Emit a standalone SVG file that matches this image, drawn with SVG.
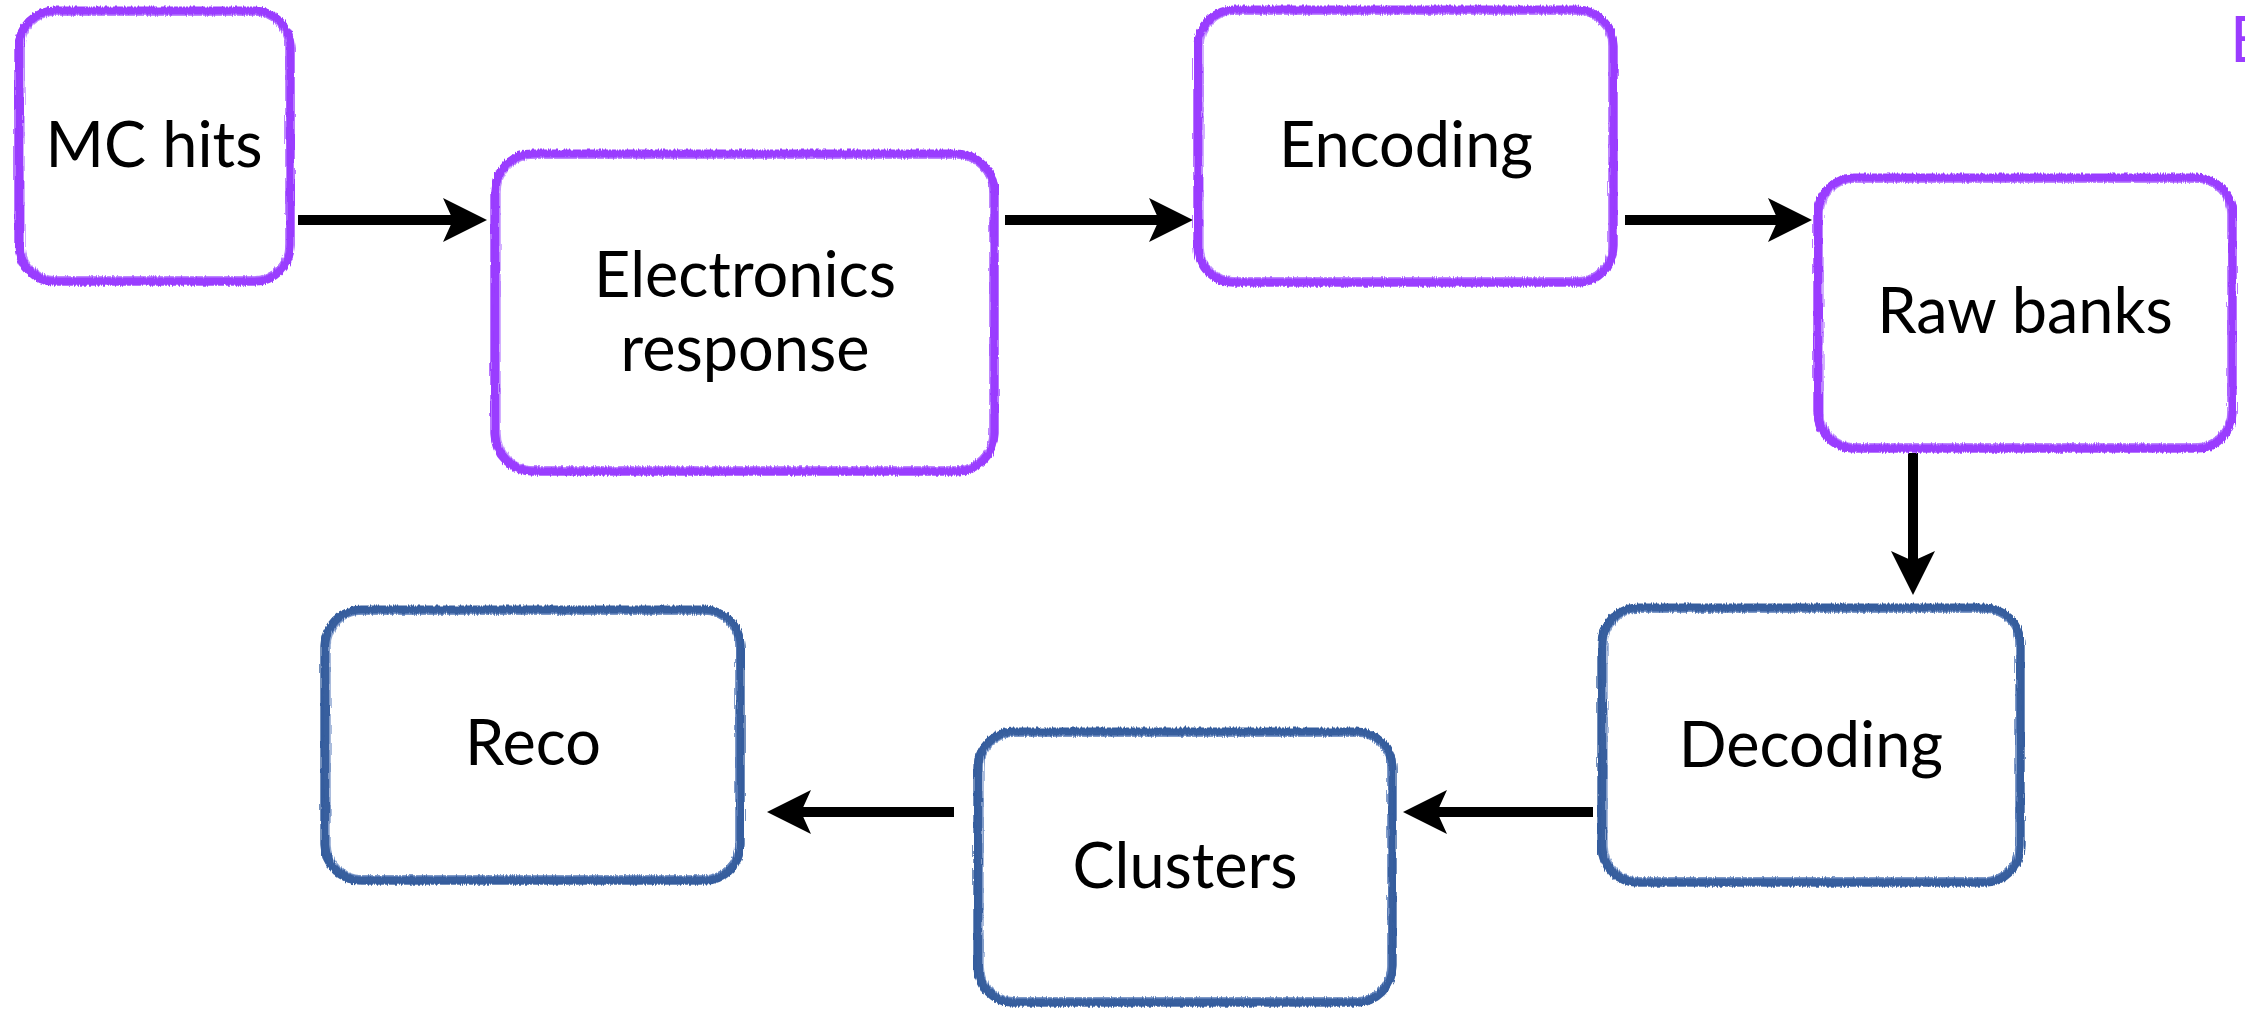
<svg xmlns="http://www.w3.org/2000/svg" width="2245" height="1009" viewBox="0 0 2245 1009">
<style>
.lbl{font-family:Lato,"Open Sans","Liberation Sans",sans-serif;font-size:63px;fill:#000;text-anchor:middle}
.p .main{fill:#fff;stroke:#9a3cff;stroke-width:9}
.p .sub{fill:none;stroke:#9a3cff;stroke-width:3;opacity:.75}
.p .thin{fill:none;stroke:#b57aff;stroke-width:1.5;opacity:.8}
.b .main{fill:#fff;stroke:#375e9e;stroke-width:9}
.b .sub{fill:none;stroke:#375e9e;stroke-width:3;opacity:.75}
.b .thin{fill:none;stroke:#6f8fc4;stroke-width:1.5;opacity:.8}
.rough{filter:url(#rough)}
.edge{fill:none;stroke:#000;stroke-width:10}
</style>
<defs>
<filter id="rough" x="-5%" y="-5%" width="110%" height="110%">
<feTurbulence type="fractalNoise" baseFrequency="0.9 0.05" numOctaves="2" seed="3" result="n"/>
<feDisplacementMap in="SourceGraphic" in2="n" scale="4" xChannelSelector="R" yChannelSelector="G"/>
</filter>
<marker id="ah" viewBox="0 0 44 44" refX="10" refY="22" markerWidth="44" markerHeight="44" markerUnits="userSpaceOnUse" orient="auto">
<path d="M0,0 L44,22 L0,44 L10,22 z" fill="#000"/>
</marker>
</defs>
<rect width="2245" height="1009" fill="#fff"/>

<g id="connectors">
<path class="edge" d="M298,220 H453" marker-end="url(#ah)"/>
<path class="edge" d="M1005,220 H1159" marker-end="url(#ah)"/>
<path class="edge" d="M1625,220 H1778" marker-end="url(#ah)"/>
<path class="edge" d="M1913,453 V561" marker-end="url(#ah)"/>
<path class="edge" d="M1593,812 H1437" marker-end="url(#ah)"/>
<path class="edge" d="M954,812 H801" marker-end="url(#ah)"/>
</g>

<g id="n-mchits" class="p">
<g class="rough">
<rect class="main" x="19" y="11" width="271" height="270" rx="36"/>
<rect class="sub" x="16" y="9" width="277" height="275" rx="38"/>
<rect class="thin" x="24" y="15" width="262" height="262" rx="32"/>
</g>
<text class="lbl" x="154" y="167">MC hits</text>
</g>

<g id="n-electronics" class="p">
<g class="rough">
<rect class="main" x="495" y="154" width="499" height="317" rx="38"/>
<rect class="sub" x="492" y="152" width="505" height="322" rx="40"/>
<rect class="thin" x="500" y="158" width="490" height="309" rx="34"/>
</g>
<text class="lbl" x="745" y="297">Electronics</text>
<text class="lbl" x="745" y="371">response</text>
</g>

<g id="n-encoding" class="p">
<g class="rough">
<rect class="main" x="1198" y="10" width="415" height="272" rx="36"/>
<rect class="sub" x="1195" y="8" width="421" height="277" rx="38"/>
<rect class="thin" x="1203" y="14" width="406" height="264" rx="32"/>
</g>
<text class="lbl" x="1406" y="167">Encoding</text>
</g>

<g id="n-rawbanks" class="p">
<g class="rough">
<rect class="main" x="1818" y="178" width="414" height="270" rx="36"/>
<rect class="sub" x="1815" y="176" width="420" height="275" rx="38"/>
<rect class="thin" x="1823" y="182" width="405" height="262" rx="32"/>
</g>
<text class="lbl" x="2025" y="333">Raw banks</text>
</g>

<g id="n-decoding" class="b">
<g class="rough">
<rect class="main" x="1602" y="608" width="418" height="274" rx="36"/>
<rect class="sub" x="1599" y="606" width="424" height="279" rx="38"/>
<rect class="thin" x="1607" y="612" width="409" height="266" rx="32"/>
</g>
<text class="lbl" x="1811" y="767">Decoding</text>
</g>

<g id="n-clusters" class="b">
<g class="rough">
<rect class="main" x="978" y="732" width="414" height="270" rx="36"/>
<rect class="sub" x="975" y="730" width="420" height="275" rx="38"/>
<rect class="thin" x="983" y="736" width="405" height="262" rx="32"/>
</g>
<text class="lbl" x="1185" y="888">Clusters</text>
</g>

<g id="n-reco" class="b">
<g class="rough">
<rect class="main" x="325" y="610" width="415" height="270" rx="36"/>
<rect class="sub" x="322" y="608" width="421" height="275" rx="38"/>
<rect class="thin" x="330" y="614" width="406" height="262" rx="32"/>
</g>
<text class="lbl" x="533" y="765">Reco</text>
</g>

<text x="2230" y="62" font-family="Lato,'Liberation Sans',sans-serif" font-size="63" fill="#9a3cff">E</text>
</svg>
